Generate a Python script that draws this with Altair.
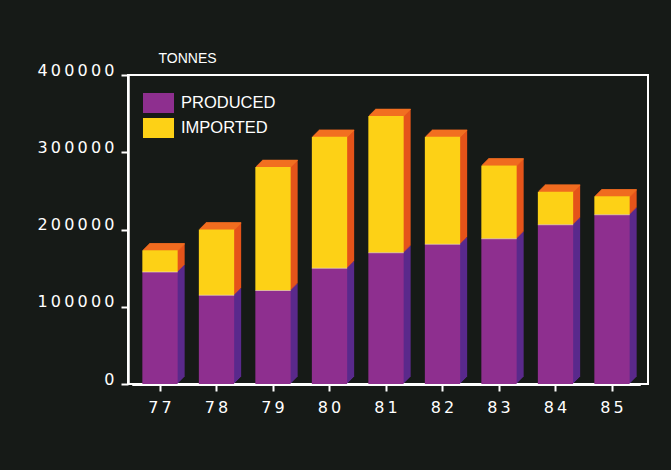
import altair as alt
import pandas as pd

years = ["77", "78", "79", "80", "81", "82", "83", "84", "85"]
produced = [145000, 115000, 121000, 150000, 170000, 181000, 188000, 206000, 219000]
imported = [28000, 85000, 160000, 170000, 177000, 139000, 95000, 43000, 24000]
series_names = ["PRODUCED", "IMPORTED"]
front_colors = ["#8e2f8f", "#fdd116"]
side_colors = ["#5a2a8c", "#e5541a"]
top_color = "#f26f20"
bg = "#161a17"
y_ticks = [0, 100000, 200000, 300000, 400000]

rows = []
for yr, p, i in zip(years, produced, imported):
    rows.append(dict(year=yr, series=series_names[0], base=0, top=p, side=side_colors[0]))
    rows.append(dict(year=yr, series=series_names[1], base=p, top=p + i, side=side_colors[1]))
df = pd.DataFrame(rows)

FONT = "Liberation Sans"
NUMFONT = "DejaVu Sans"
spaced = "join(split(datum.label, ''), '\u2009')"
BAND = 56.5 * (1 - 0.375)
DEPTH = 7

x_enc = alt.X(
    "year:O", sort=years,
    scale=alt.Scale(range=[3.75, 512.25], paddingInner=0.375, paddingOuter=0.1875),
    axis=alt.Axis(title=None, labelAngle=0, labelExpr=spaced, labelFont=NUMFONT,
                  labelFontSize=16, labelColor="white", labelPadding=8,
                  tickSize=7, tickWidth=2, tickColor="white",
                  domainColor="white", domainWidth=3),
)
y_enc = alt.Y(
    "top:Q", scale=alt.Scale(domain=[0, 400000], nice=False),
    axis=alt.Axis(values=y_ticks, format="d", labelExpr=spaced, labelFont=NUMFONT,
                  labelFontSize=16, labelColor="white", labelBaseline="alphabetic",
                  labelPadding=7, labelFlush=False, labelOverlap=False,
                  tickSize=7, tickWidth=2, tickColor="white",
                  domainColor="white", domainWidth=2.5, grid=False,
                  title="TONNES", titleAngle=0, titleX=30, titleY=-13,
                  titleAlign="left", titleBaseline="alphabetic", titleFont=FONT,
                  titleFontSize=14, titleFontWeight="normal", titleColor="white"),
)

base = alt.Chart(df)
layers = []
# extruded side faces, drawn back to front
for k in range(DEPTH, 0, -1):
    layers.append(
        base.mark_bar(xOffset=k, x2Offset=k, yOffset=-k, y2Offset=-k).encode(
            x=x_enc, y=y_enc, y2="base:Q",
            fill=alt.Fill("side:N", scale=None),
        )
    )
# top faces
for k in range(1, DEPTH + 1):
    layers.append(
        base.transform_filter(alt.datum.series == series_names[1])
        .mark_tick(size=BAND, thickness=1.3, xOffset=k, yOffset=-k + 0.5,
                   color=top_color, opacity=1)
        .encode(x=x_enc, y=y_enc)
    )
# front faces
layers.append(
    base.mark_bar().encode(
        x=x_enc, y=y_enc, y2="base:Q",
        color=alt.Color(
            "series:N",
            scale=alt.Scale(domain=series_names, range=front_colors),
            legend=alt.Legend(
                title=None, orient="none", legendX=16, legendY=13.5,
                symbolType="M-1.07,-0.69H1.07V0.69H-1.07Z", symbolSize=841,
                symbolStrokeWidth=0, symbolOpacity=1,
                labelFont=FONT, labelFontSize=16.5, labelColor="white",
                labelOffset=8, rowPadding=0, padding=0,
            ),
        ),
    )
)
# faint light seam between the two parts
layers.append(
    base.transform_filter(alt.datum.series == series_names[0])
    .mark_tick(size=BAND, thickness=1, color="#f3e2d0", opacity=0.6)
    .encode(x=x_enc, y=y_enc)
)

chart = (
    alt.layer(*layers)
    .properties(
        width=520, height=309,
        autosize=alt.AutoSizeParams(type="none"),
        padding={"left": 128, "top": 75, "right": 23, "bottom": 86},
        background=bg,
    )
    .configure_view(stroke="white", strokeWidth=2)
)

chart.save("out.html", embed_options={"renderer": "svg", "actions": False})
